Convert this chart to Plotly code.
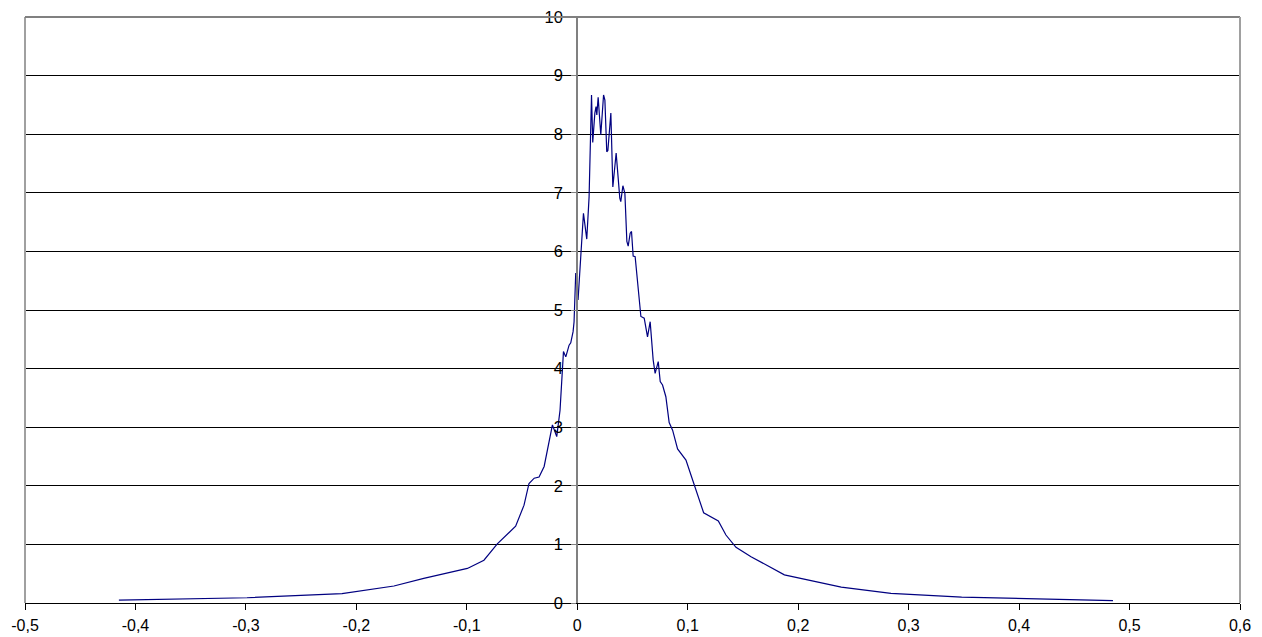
import plotly.graph_objects as go

x_vals = [-0.415, -0.299, -0.213, -0.166, -0.139, -0.0995, -0.0845, -0.0724, -0.0558, -0.0482,
          -0.0437, -0.039, -0.0346, -0.030, -0.0225, -0.0186, -0.0156, -0.0125, -0.0104, -0.0074,
          -0.0059, -0.0038, -0.0029, -0.0014, 0.0007, 0.0056, 0.0086, 0.0107, 0.0129, 0.014,
          0.0159, 0.017, 0.0177, 0.0189, 0.0213, 0.0238, 0.025, 0.0267, 0.0277, 0.0304,
          0.0322, 0.0352, 0.0385, 0.0394, 0.0413, 0.0431, 0.0449, 0.0461, 0.0479, 0.0491,
          0.0506, 0.0524, 0.0576, 0.0606, 0.0636, 0.066, 0.0687, 0.0705, 0.0733, 0.0751,
          0.0772, 0.0802, 0.0832, 0.0863, 0.0908, 0.0984, 0.103, 0.1144, 0.1277, 0.1346,
          0.1437, 0.1573, 0.1875, 0.2087, 0.239, 0.284, 0.348, 0.485]
y_vals = [0.05, 0.09, 0.16, 0.29, 0.42, 0.59, 0.73, 1.01, 1.31, 1.67,
          2.04, 2.13, 2.15, 2.33, 3.04, 2.84, 3.29, 4.29, 4.20, 4.40,
          4.44, 4.63, 4.80, 5.63, 5.17, 6.65, 6.21, 6.93, 8.67, 7.86,
          8.36, 8.47, 8.33, 8.63, 7.99, 8.67, 8.58, 7.70, 7.72, 8.36,
          7.10, 7.68, 6.91, 6.85, 7.12, 6.99, 6.17, 6.09, 6.31, 6.34,
          5.92, 5.91, 4.89, 4.86, 4.54, 4.80, 4.15, 3.92, 4.12, 3.78,
          3.72, 3.52, 3.08, 2.95, 2.63, 2.44, 2.18, 1.54, 1.40, 1.16,
          0.95, 0.79, 0.48, 0.39, 0.27, 0.165, 0.10, 0.04]

x_tickvals = [-0.5, -0.4, -0.3, -0.2, -0.1, 0, 0.1, 0.2, 0.3, 0.4, 0.5, 0.6]
x_ticktext = ["-0,5", "-0,4", "-0,3", "-0,2", "-0,1", "0", "0,1", "0,2", "0,3", "0,4", "0,5", "0,6"]
y_tickvals = [0, 1, 2, 3, 4, 5, 6, 7, 8, 9, 10]
y_ticktext = ["0", "1", "2", "3", "4", "5", "6", "7", "8", "9", "10"]

fig = go.Figure()
fig.add_trace(go.Scatter(x=x_vals, y=y_vals, mode="lines",
                         line=dict(color="#000080", width=1.2), showlegend=False,
                         hoverinfo="skip"))

fig.update_layout(
    width=1262, height=637,
    margin=dict(l=25, r=22, t=17, b=34),
    paper_bgcolor="white", plot_bgcolor="white",
    font=dict(family="Liberation Sans, Arial, sans-serif", size=16, color="black"),
    xaxis=dict(range=[-0.5, 0.6], tickvals=x_tickvals, ticktext=x_ticktext,
               showgrid=False, zeroline=False, showline=True, linecolor="black",
               linewidth=1, ticks="outside", ticklen=6, tickcolor="black",
               ticklabelstandoff=2,
               tickfont=dict(size=16), domain=[0, 1], automargin=False),
    yaxis=dict(range=[0, 10], tickvals=y_tickvals, ticktext=y_ticktext,
               showgrid=True, gridcolor="black", gridwidth=1, zeroline=False,
               showline=True, linecolor="#808080", linewidth=2,
               ticks="outside", ticklen=5, tickcolor="#808080",
               ticklabelstandoff=5,
               tickfont=dict(size=16.5),
               anchor="free", position=5/11, automargin=False),
    shapes=[
        dict(type="line", xref="paper", yref="paper", x0=0, x1=0, y0=0, y1=1,
             line=dict(color="#A0A0A0", width=2)),
        dict(type="line", xref="paper", yref="paper", x0=0, x1=1, y0=1, y1=1,
             line=dict(color="#808080", width=2)),
        dict(type="line", xref="paper", yref="paper", x0=1, x1=1, y0=0, y1=1,
             line=dict(color="#A0A0A0", width=2)),
    ],
)

fig.write_html("out.html", config={"displayModeBar": False},
               post_script="document.body.style.margin='0';document.body.style.overflow='hidden';")
